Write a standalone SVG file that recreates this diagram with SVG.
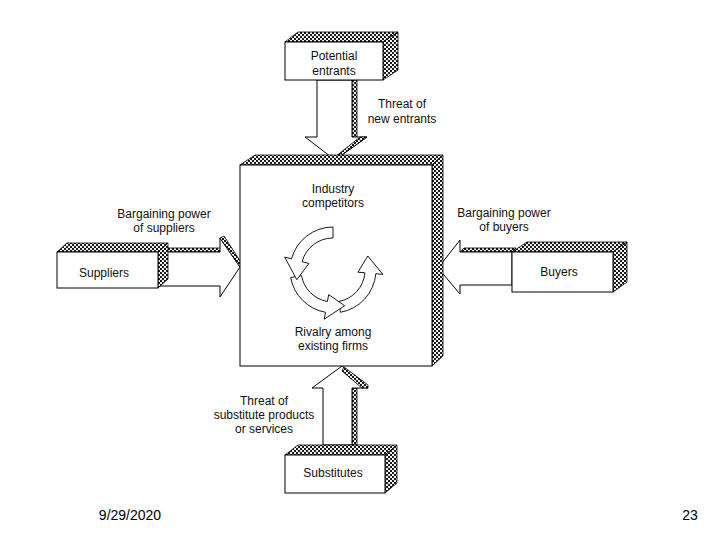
<svg xmlns="http://www.w3.org/2000/svg" width="720" height="540" viewBox="0 0 720 540">
<defs>
<pattern id="dith" width="4" height="4" patternUnits="userSpaceOnUse">
<rect width="4" height="4" fill="#f4f4f4"/>
<rect width="2" height="2" fill="#1a1a1a"/>
<rect x="2" y="2" width="2" height="2" fill="#1a1a1a"/>
</pattern>
<style>
.face{fill:#fff;stroke:#000;stroke-width:1}
.shade{fill:url(#dith);stroke:#000;stroke-width:0.8}
.t{font-family:"Liberation Sans",Arial,sans-serif;font-size:12px;fill:#111;text-anchor:middle}
.foot{font-family:"Liberation Sans",Arial,sans-serif;font-size:14px;fill:#000;text-anchor:middle}
.cyc{fill:#fff;stroke:#000;stroke-width:0.9;stroke-linejoin:miter}
</style>
</defs>
<rect width="720" height="540" fill="#fff"/>

<g id="connectors">
<!-- threat of new entrants (down) -->
<g id="arrow-new-entrants">
<rect class="shade" x="352" y="80" width="5" height="57"/>
<polygon class="face" points="317,80 317,137 305,137 335,160 367,137 352,137 352,80"/>
<polygon class="shade" points="360,137 367,137 336,159 335,157"/>
<text class="t" x="402" y="108">Threat of</text>
<text class="t" x="402" y="123">new entrants</text>
</g>
<!-- bargaining power of suppliers (right) -->
<g id="arrow-suppliers">
<polygon class="shade" points="158,252 162,248 222,248 220,252"/>
<polygon class="face" points="158,252 220,252 220,238 240,267 220,297 220,286 158,286"/>
<polygon class="shade" points="220,238 224,236 242,264 240,267"/>
<text class="t" x="164" y="218">Bargaining power</text>
<text class="t" x="164" y="232">of suppliers</text>
</g>
<!-- bargaining power of buyers (left) -->
<g id="arrow-buyers">
<polygon class="shade" points="460,252 464,248 516,248 512,252"/>
<polygon class="face" points="512,252 460,252 460,240 438,268 460,294 460,285 512,285"/>
<text class="t" x="504" y="217">Bargaining power</text>
<text class="t" x="504" y="231">of buyers</text>
</g>
<!-- threat of substitutes (up) -->
<g id="arrow-substitutes">
<rect class="shade" x="352" y="388" width="5" height="57"/>
<polygon class="face" points="323,445 323,388 312,388 342,366 368,388 352,388 352,445"/>
<polygon class="shade" points="344,367 368,385 368,388 362,388 342,371"/>
<text class="t" x="264" y="405">Threat of</text>
<text class="t" x="264" y="419">substitute products</text>
<text class="t" x="264" y="433">or services</text>
</g>
</g>

<g id="industry-competitors">
<polygon class="shade" points="240,165 255,155 443,155 432,165"/>
<polygon class="shade" points="432,165 443,155 443,356 432,366"/>
<rect class="face" x="240" y="165" width="192" height="201"/>
<text class="t" x="333" y="193">Industry</text>
<text class="t" x="333" y="207">competitors</text>
<text class="t" x="333" y="336">Rivalry among</text>
<text class="t" x="333" y="350">existing firms</text>
<g id="rivalry-cycle">
<path class="cyc" d="M340.5,312.3 A43,43 0 0 0 375.8,273.7 L382.8,274.4 L367.8,256 L357.9,272.2 L364.9,272.8 A32,32 0 0 1 338.6,301.5 Z"/>
<path class="cyc" d="M290.7,277.5 A43,43 0 0 0 325.5,312.3 L324.3,319.2 L344.6,305.7 L328.7,294.6 L327.4,301.5 A32,32 0 0 1 301.5,275.6 Z"/>
<path class="cyc" d="M333,227 A43,43 0 0 0 291.5,258.9 L284.7,257.1 L296.8,279.7 L308.9,263.5 L302.1,261.7 A32,32 0 0 1 333,238 Z"/>
</g>
</g>

<g id="potential-entrants">
<polygon class="shade" points="285,42 298,32 398,32 383,42"/>
<polygon class="shade" points="383,42 398,32 398,70 383,80"/>
<rect class="face" x="285" y="42" width="98" height="38"/>
<text class="t" x="334" y="60">Potential</text>
<text class="t" x="334" y="75">entrants</text>
</g>

<g id="suppliers">
<polygon class="shade" points="57,252 67,243 168,243 158,252"/>
<polygon class="shade" points="158,252 168,243 168,279 158,288"/>
<rect class="face" x="57" y="252" width="101" height="36"/>
<text class="t" x="104" y="277">Suppliers</text>
</g>

<g id="buyers">
<polygon class="shade" points="512,252 527,242 627,242 613,252"/>
<polygon class="shade" points="613,252 627,242 627,282 613,292"/>
<rect class="face" x="512" y="252" width="101" height="40"/>
<text class="t" x="559" y="276">Buyers</text>
</g>

<g id="substitutes">
<polygon class="shade" points="285,455 298,445 397,445 385,455"/>
<polygon class="shade" points="385,455 397,445 397,483 385,493"/>
<rect class="face" x="285" y="455" width="100" height="38"/>
<text class="t" x="333" y="477">Substitutes</text>
</g>

<text class="foot" x="130" y="520">9/29/2020</text>
<text class="foot" x="690" y="520">23</text>
</svg>
